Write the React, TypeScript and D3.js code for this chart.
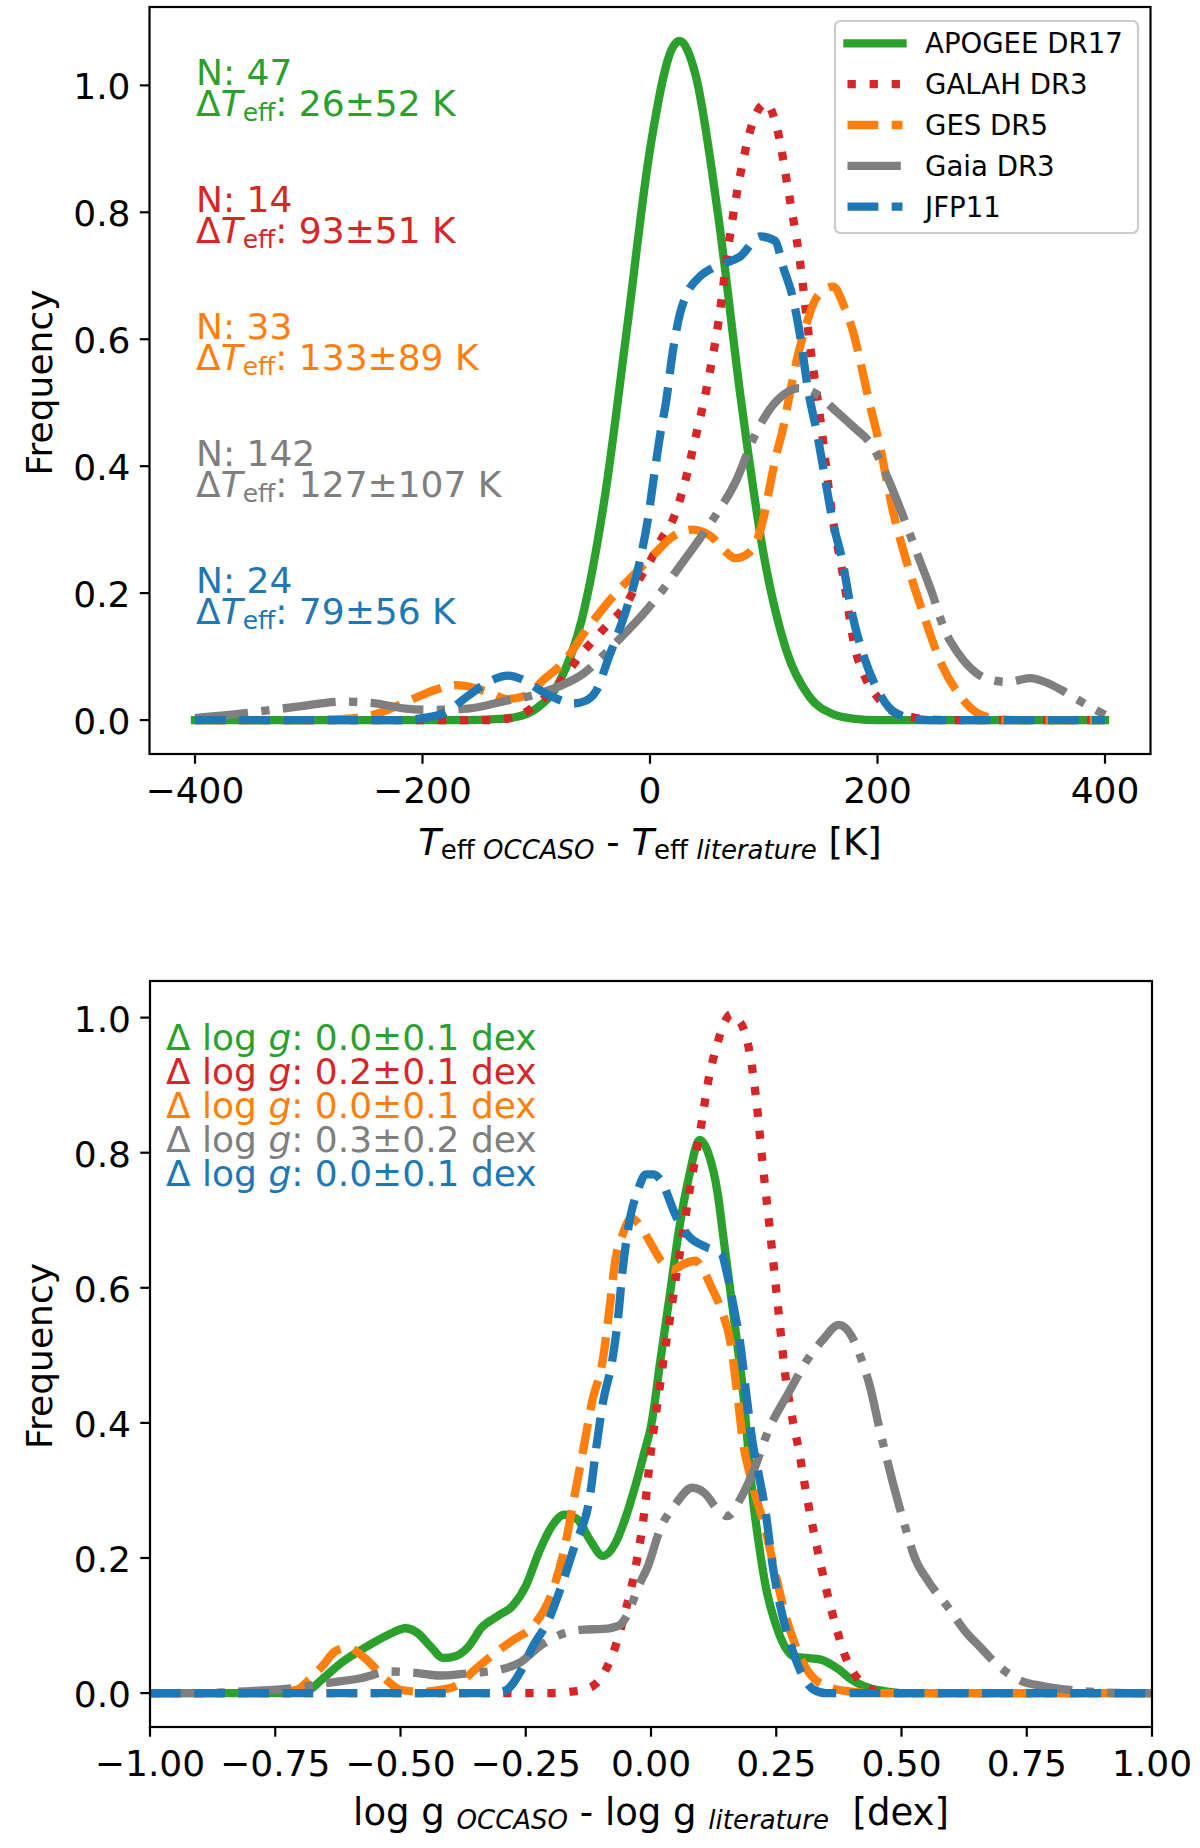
import React from "react";
import * as d3 from "d3";

type Pt = [number, number];

// ---------- Series ----------
const seriesNames = ["APOGEE DR17", "GALAH DR3", "GES DR5", "Gaia DR3", "JFP11"];
const seriesColors = ["#2ca02c", "#d62728", "#ff7f0e", "#7f7f7f", "#1f77b4"];

const nStars = [47, 14, 33, 142, 24];
const teffMean = [26, 93, 133, 127, 79];
const teffStd = [52, 51, 89, 107, 56];
const loggMean = ["0.0", "0.2", "0.0", "0.3", "0.0"];
const loggStd = ["0.1", "0.1", "0.1", "0.2", "0.1"];

const teffTicks = [-400, -200, 0, 200, 400];
const loggTicks = [-1, -0.75, -0.5, -0.25, 0, 0.25, 0.5, 0.75, 1];
const freqTicks = [0, 0.2, 0.4, 0.6, 0.8, 1.0];

// Teff difference KDE curves
const apogeeTeff: Pt[] = [[-400,0],[-160,0],[-140,0.001],[-120,0.004],[-100,0.018],[-80,0.059],[-60,0.158],[-40,0.348],[-20,0.62],[0,0.899],[20,1.06],[26,1.07],[40,1.017],[60,0.794],[80,0.504],[100,0.26],[120,0.109],[140,0.037],[160,0.01],[180,0.002],[200,0],[400,0]];
const galahTeff: Pt[] = [[-400,0],[-140,0],[-120,0.004],[-100,0.024],[-80,0.058],[-60,0.105],[-40,0.145],[-20,0.185],[-10,0.22],[0,0.25],[10,0.285],[20,0.315],[30,0.37],[40,0.445],[50,0.525],[60,0.625],[70,0.76],[80,0.865],[90,0.94],[102,0.972],[112,0.93],[122,0.83],[132,0.72],[140,0.6],[150,0.47],[160,0.325],[170,0.225],[180,0.115],[190,0.064],[200,0.036],[215,0.012],[235,0.003],[260,0],[400,0]];
const gesTeff: Pt[] = [[-400,0],[-300,0],[-260,0.003],[-240,0.01],[-210,0.032],[-190,0.047],[-170,0.055],[-155,0.051],[-140,0.042],[-125,0.033],[-110,0.038],[-92,0.066],[-80,0.084],[-70,0.105],[-58,0.137],[-47,0.163],[-30,0.2],[-13,0.231],[4,0.262],[20,0.289],[37,0.3],[54,0.289],[65,0.268],[75,0.255],[88,0.265],[100,0.32],[105,0.365],[110,0.41],[117,0.46],[123,0.515],[129,0.567],[136,0.615],[147,0.667],[161,0.683],[171,0.65],[179,0.609],[186,0.556],[193,0.499],[201,0.441],[214,0.326],[226,0.247],[242,0.158],[256,0.089],[271,0.042],[287,0.012],[305,0.002],[320,0],[400,0]];
const gaiaTeff: Pt[] = [[-400,0.003],[-360,0.01],[-310,0.021],[-270,0.029],[-240,0.026],[-215,0.018],[-190,0.016],[-160,0.018],[-125,0.031],[-103,0.039],[-80,0.053],[-58,0.074],[-42,0.1],[-25,0.131],[-8,0.163],[9,0.2],[26,0.242],[43,0.284],[59,0.326],[76,0.378],[90,0.44],[100,0.475],[117,0.512],[131,0.523],[145,0.515],[164,0.486],[180,0.46],[195,0.433],[211,0.373],[226,0.305],[237,0.252],[248,0.2],[259,0.142],[271,0.105],[287,0.074],[300,0.063],[315,0.06],[334,0.066],[350,0.058],[362,0.047],[380,0.028],[390,0.018],[400,0.008]];
const jfpTeff: Pt[] = [[-400,0],[-220,0],[-200,0.003],[-180,0.012],[-160,0.038],[-140,0.062],[-125,0.07],[-110,0.062],[-95,0.045],[-80,0.032],[-68,0.026],[-57,0.03],[-47,0.047],[-36,0.1],[-22,0.168],[-10,0.242],[-2,0.315],[4,0.39],[9,0.45],[14,0.5],[20,0.58],[26,0.638],[32,0.67],[44,0.699],[56,0.713],[66,0.72],[79,0.73],[97,0.762],[110,0.755],[117,0.714],[126,0.662],[133,0.594],[138,0.531],[148,0.441],[153,0.39],[161,0.31],[169,0.252],[177,0.173],[188,0.1],[198,0.055],[210,0.02],[225,0.005],[245,0],[400,0]];

// log g difference KDE curves
const apogeeLogg: Pt[] = [[-1,0],[-0.72,0],[-0.682,0.005],[-0.657,0.02],[-0.618,0.045],[-0.567,0.069],[-0.517,0.089],[-0.491,0.096],[-0.466,0.089],[-0.44,0.069],[-0.415,0.052],[-0.389,0.055],[-0.364,0.069],[-0.338,0.097],[-0.306,0.114],[-0.275,0.13],[-0.249,0.16],[-0.224,0.208],[-0.198,0.247],[-0.173,0.264],[-0.147,0.257],[-0.122,0.227],[-0.096,0.203],[-0.071,0.222],[-0.052,0.257],[-0.03,0.31],[-0.012,0.36],[0,0.395],[0.019,0.494],[0.038,0.592],[0.057,0.691],[0.076,0.765],[0.097,0.819],[0.114,0.8],[0.133,0.74],[0.146,0.666],[0.159,0.592],[0.172,0.518],[0.184,0.444],[0.193,0.37],[0.203,0.291],[0.216,0.217],[0.229,0.158],[0.248,0.104],[0.267,0.069],[0.286,0.054],[0.311,0.052],[0.337,0.05],[0.375,0.035],[0.4,0.02],[0.426,0.01],[0.465,0.003],[0.5,0],[1,0]];
const galahLogg: Pt[] = [[-1,0],[-0.2,0],[-0.16,0.002],[-0.13,0.006],[-0.115,0.011],[-0.09,0.035],[-0.071,0.069],[-0.052,0.119],[-0.033,0.178],[-0.0135,0.267],[0,0.36],[0.015,0.44],[0.025,0.494],[0.0375,0.553],[0.05,0.617],[0.063,0.676],[0.076,0.74],[0.088,0.79],[0.101,0.844],[0.114,0.905],[0.13,0.955],[0.145,0.99],[0.16,1.005],[0.172,0.998],[0.184,0.985],[0.197,0.948],[0.21,0.879],[0.222,0.79],[0.238,0.681],[0.254,0.568],[0.27,0.46],[0.28,0.415],[0.295,0.36],[0.311,0.291],[0.331,0.217],[0.35,0.153],[0.369,0.099],[0.388,0.054],[0.414,0.02],[0.45,0.003],[0.5,0],[1,0]];
const gesLogg: Pt[] = [[-1,0],[-0.76,0],[-0.707,0.005],[-0.682,0.02],[-0.656,0.04],[-0.63,0.062],[-0.605,0.067],[-0.567,0.049],[-0.529,0.02],[-0.5,0.005],[-0.46,0.002],[-0.427,0.004],[-0.389,0.011],[-0.351,0.035],[-0.312,0.059],[-0.274,0.079],[-0.236,0.099],[-0.198,0.148],[-0.172,0.217],[-0.153,0.291],[-0.134,0.365],[-0.118,0.43],[-0.096,0.494],[-0.083,0.568],[-0.071,0.642],[-0.058,0.676],[-0.039,0.703],[-0.02,0.69],[0,0.665],[0.02,0.64],[0.044,0.627],[0.065,0.635],[0.088,0.64],[0.105,0.625],[0.12,0.602],[0.14,0.568],[0.159,0.518],[0.172,0.444],[0.184,0.37],[0.2,0.316],[0.229,0.24],[0.248,0.178],[0.267,0.119],[0.286,0.075],[0.311,0.035],[0.35,0.01],[0.4,0.002],[0.45,0],[1,0]];
const gaiaLogg: Pt[] = [[-1,0],[-0.9,0],[-0.8,0.003],[-0.707,0.008],[-0.645,0.015],[-0.58,0.022],[-0.52,0.032],[-0.47,0.03],[-0.42,0.026],[-0.38,0.028],[-0.35,0.03],[-0.3,0.035],[-0.262,0.045],[-0.223,0.069],[-0.172,0.089],[-0.134,0.094],[-0.096,0.095],[-0.064,0.1],[-0.045,0.119],[-0.025,0.158],[-0.006,0.188],[0.018,0.242],[0.05,0.281],[0.082,0.304],[0.107,0.296],[0.133,0.272],[0.152,0.262],[0.178,0.287],[0.203,0.326],[0.235,0.39],[0.274,0.444],[0.317,0.499],[0.343,0.523],[0.375,0.545],[0.4,0.529],[0.42,0.494],[0.437,0.454],[0.455,0.395],[0.476,0.331],[0.503,0.257],[0.528,0.198],[0.554,0.165],[0.592,0.128],[0.63,0.089],[0.656,0.069],[0.694,0.04],[0.733,0.02],[0.784,0.01],[0.86,0.003],[0.95,0],[1,0]];
const jfpLogg: Pt[] = [[-1,0],[-0.32,0],[-0.29,0.004],[-0.262,0.03],[-0.236,0.069],[-0.204,0.109],[-0.179,0.158],[-0.153,0.217],[-0.122,0.291],[-0.109,0.365],[-0.096,0.43],[-0.077,0.494],[-0.064,0.568],[-0.058,0.617],[-0.045,0.69],[-0.026,0.745],[-0.01,0.768],[0.005,0.768],[0.019,0.76],[0.05,0.706],[0.076,0.676],[0.108,0.661],[0.14,0.651],[0.153,0.617],[0.166,0.568],[0.178,0.518],[0.19,0.444],[0.203,0.37],[0.216,0.32],[0.229,0.267],[0.242,0.193],[0.261,0.119],[0.28,0.069],[0.3,0.03],[0.325,0.005],[0.35,0],[1,0]];

const teffCurves = [apogeeTeff, galahTeff, gesTeff, gaiaTeff, jfpTeff];
const loggCurves = [apogeeLogg, galahLogg, gesLogg, gaiaLogg, jfpLogg];

// ---------- Styles ----------
const FONT = "DejaVu Sans";
const LW = 8.33;
const seriesDash = ["", `${LW} ${1.65 * LW}`, `${3.7 * LW} ${1.6 * LW}`, `${6.4 * LW} ${1.6 * LW} ${LW} ${1.6 * LW}`, `${3.7 * LW} ${1.6 * LW}`];
const seriesCap: ("square" | "butt")[] = ["square", "butt", "butt", "butt", "butt"];

const W = 1200;
const H = 1848;
const SPINE = 2.2;
const TICK = 9.7;

const top = { x0: 149.5, x1: 1150.5, y0: 7, y1: 754 };
const bot = { x0: 150, x1: 1152, y0: 981, y1: 1727 };

const xT = d3.scaleLinear().domain([-440, 440]).range([top.x0, top.x1]);
const yT = d3.scaleLinear().domain([-0.0535, 1.1235]).range([top.y1, top.y0]);
const xB = d3.scaleLinear().domain([-1, 1]).range([bot.x0, bot.x1]);
const yB = d3.scaleLinear().domain([-0.0502, 1.0542]).range([bot.y1, bot.y0]);

const minus = (s: string) => s.replace("-", "\u2212");

function Axes({ box, xs, ys, xticks, xfmt, id, curves }: any) {
  const line = d3
    .line<Pt>()
    .x((d) => xs(d[0]))
    .y((d) => ys(d[1]))
    .curve(d3.curveMonotoneX);
  return (
    <g>
      <defs>
        <clipPath id={id}>
          <rect x={box.x0} y={box.y0} width={box.x1 - box.x0} height={box.y1 - box.y0} />
        </clipPath>
      </defs>
      <g clipPath={`url(#${id})`}>
        {curves.map((c: Pt[], i: number) => (
          <path
            key={i}
            d={line(c) || ""}
            fill="none"
            stroke={seriesColors[i]}
            strokeWidth={LW}
            strokeDasharray={seriesDash[i] || undefined}
            strokeLinecap={seriesCap[i]}
            strokeLinejoin="round"
          />
        ))}
      </g>
      <rect x={box.x0} y={box.y0} width={box.x1 - box.x0} height={box.y1 - box.y0} fill="none" stroke="#000" strokeWidth={SPINE} />
      {xticks.map((t: number) => (
        <g key={"x" + t}>
          <line x1={xs(t)} x2={xs(t)} y1={box.y1} y2={box.y1 + TICK} stroke="#000" strokeWidth={SPINE} />
          <text x={xs(t)} y={box.y1 + 49} textAnchor="middle" fontSize={36} fontFamily={FONT} fill="#000">
            {minus(xfmt(t))}
          </text>
        </g>
      ))}
      {freqTicks.map((t) => (
        <g key={"y" + t}>
          <line x1={box.x0 - TICK} x2={box.x0} y1={ys(t)} y2={ys(t)} stroke="#000" strokeWidth={SPINE} />
          <text x={box.x0 - 19} y={ys(t) + 14} textAnchor="end" fontSize={36} fontFamily={FONT} fill="#000">
            {d3.format(".1f")(t)}
          </text>
        </g>
      ))}
      <text
        transform={`translate(52, ${(box.y0 + box.y1) / 2 + 2}) rotate(-90)`}
        textAnchor="middle"
        fontSize={36}
        fontFamily={FONT}
        fill="#000"
      >
        Frequency
      </text>
    </g>
  );
}

export default function App() {
  const legendRows = seriesNames.map((n, i) => ({ n, i, cy: 43.3 + i * 40.85 }));
  return (
    <svg
      width={W}
      height={H}
      viewBox={`0 0 ${W} ${H}`}
      style={{ position: "absolute", left: 0, top: 0, background: "#fff" }}
      fontFamily={FONT}
    >
      <rect x={0} y={0} width={W} height={H} fill="#fff" />
      <Axes box={top} xs={xT} ys={yT} xticks={teffTicks} xfmt={d3.format("d")} id="clipTop" curves={teffCurves} />
      <Axes box={bot} xs={xB} ys={yB} xticks={loggTicks} xfmt={d3.format(".2f")} id="clipBot" curves={loggCurves} />

      {/* Top annotations */}
      {nStars.map((n, i) => {
        const y = yT(1.0 - 0.2 * i);
        return (
          <g key={"ta" + i} fill={seriesColors[i]} fontSize={36}>
            <text x={xT(-400) + 1} y={y}>{`N: ${n}`}</text>
            <text x={xT(-400) + 1} y={y + 31}>
              {"\u0394"}
              <tspan fontStyle="italic">T</tspan>
              <tspan fontSize={25} dy={5}>eff</tspan>
              <tspan dy={-5}>{`: ${teffMean[i]}\u00b1${teffStd[i]} K`}</tspan>
            </text>
          </g>
        );
      })}

      {/* Bottom annotations */}
      {loggMean.map((m, i) => (
        <text key={"ba" + i} x={xB(-0.97) + 1} y={yB(0.952) + i * 34} fill={seriesColors[i]} fontSize={36} style={{ whiteSpace: "pre" }}>
          {"\u0394 log "}
          <tspan fontStyle="italic">g</tspan>
          <tspan>{`: ${m}\u00b1${loggStd[i]} dex`}</tspan>
        </text>
      ))}

      {/* Legend */}
      <rect x={835} y={21} width={303} height={212} rx={5.5} ry={5.5} fill="#fff" fillOpacity={0.8} stroke="#cccccc" strokeWidth={2.2} />
      {legendRows.map(({ n, i, cy }) => (
        <g key={"lg" + i}>
          <line
            x1={847.5}
            x2={902.5}
            y1={cy}
            y2={cy}
            stroke={seriesColors[i]}
            strokeWidth={LW}
            strokeDasharray={seriesDash[i] || undefined}
            strokeLinecap={seriesCap[i]}
          />
          <text x={925} y={cy + 10} fontSize={27.6} fill="#000">
            {n}
          </text>
        </g>
      ))}

      {/* X labels */}
      <text x={650} y={855} textAnchor="middle" fontSize={37} fill="#000" style={{ whiteSpace: "pre" }}>
        <tspan fontStyle="italic">T</tspan>
        <tspan fontSize={26} dy={4}>{"eff "}</tspan>
        <tspan fontSize={26} fontStyle="italic">OCCASO</tspan>
        <tspan dy={-4}>{" - "}</tspan>
        <tspan fontStyle="italic">T</tspan>
        <tspan fontSize={26} dy={4}>{"eff "}</tspan>
        <tspan fontSize={26} fontStyle="italic">literature</tspan>
        <tspan dy={-4}>{" [K]"}</tspan>
      </text>
      <text x={651} y={1825} textAnchor="middle" fontSize={37} fill="#000" style={{ whiteSpace: "pre" }}>
        <tspan>{"log g "}</tspan>
        <tspan fontSize={26} fontStyle="italic" dy={4}>OCCASO</tspan>
        <tspan dy={-4}>{" - log g "}</tspan>
        <tspan fontSize={26} fontStyle="italic" dy={4}>literature</tspan>
        <tspan dy={-4}>{"  [dex]"}</tspan>
      </text>
    </svg>
  );
}
